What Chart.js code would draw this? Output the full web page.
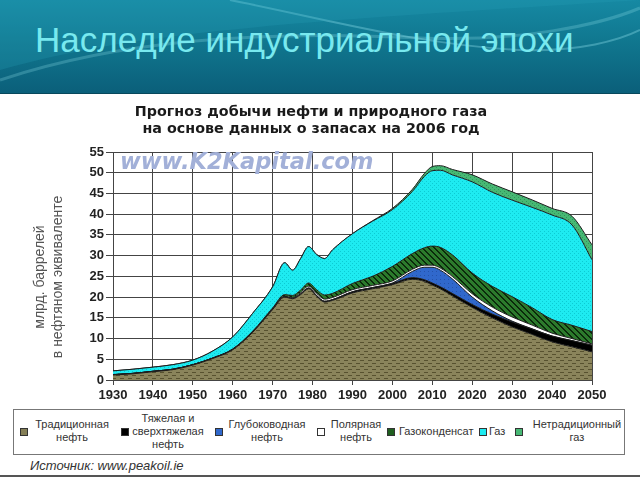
<!DOCTYPE html>
<html>
<head>
<meta charset="utf-8">
<script src="https://cdn.jsdelivr.net/npm/chart.js@4"></script>
<style>
  body { margin: 0; width: 640px; height: 480px; overflow: hidden; background: #fff; position: relative; font-family: "Liberation Sans", Arial, sans-serif; }
  #header { position: absolute; left: 0; top: 0; width: 640px; height: 93px; overflow: hidden;
    background: linear-gradient(180deg, #1689a3 0%, #10778f 45%, #0b5f7a 100%); }
  #header h1 { position: absolute; left: 35px; top: 23px; margin: 0; font-weight: normal; font-size: 35px; line-height: 34px; color: #78e9ef; white-space: nowrap; }
  #content { position: absolute; left: 0; top: 93px; width: 640px; height: 384px; border-top: 1px solid #08485c; border-bottom: 2px solid #555; box-sizing: border-box; }
  #chart { position: absolute; left: 0; top: 95px; }
  #legendBox { position: absolute; left: 13px; top: 409px; width: 612px; height: 46px; border: 1px solid #777; box-sizing: border-box; }
  .sw { position: absolute; width: 8px; height: 8px; top: 428px; border: 1px solid #333; box-sizing: border-box; }
  .lt { position: absolute; font-size: 11px; line-height: 13px; color: #333; white-space: pre; }
  #source { position: absolute; left: 30px; top: 458px; font-size: 13px; font-style: italic; color: #333; }
</style>
</head>
<body>
<div id="header">
  <svg width="640" height="93" style="position:absolute;left:0;top:0">
    <path d="M230 0 C 330 20, 420 45, 520 50 C 580 52, 620 40, 640 30" stroke="rgba(150,230,240,0.35)" stroke-width="2" fill="none"/>
    <path d="M0 80 C 120 40, 260 30, 420 38 C 520 42, 600 25, 640 8" stroke="rgba(150,230,240,0.25)" stroke-width="3" fill="none"/>
    <path d="M0 70 C 140 30, 300 22, 640 0 L 640 0 L 0 0 Z" fill="rgba(40,160,185,0.25)"/>
  </svg>
  <h1>Наследие индустриальной эпохи</h1>
</div>
<div id="content"></div>
<canvas id="chart" width="640" height="310"></canvas>
<div id="legendBox"></div>
<div id="legend"></div>
<div id="source">Источник: www.peakoil.ie</div>

<script>
// Years on the x axis
const years = [1930, 1935, 1940, 1945, 1950, 1955, 1960, 1965, 1970, 1973, 1975, 1977, 1979, 1981, 1983, 1985,
               1990, 1995, 2000, 2005, 2008, 2010, 2012, 2015, 2020, 2025, 2030, 2035, 2040, 2045, 2050];

// Series, billion barrels of oil equivalent (stacked, bottom to top)
const conventionalOil = [1.2, 1.5, 2.0, 2.5, 3.6, 5.2, 7.3, 11.5, 17.0, 20.0, 19.6, 20.6, 22.0, 20.2, 18.8, 19.2,
                         21.0, 22.0, 23.0, 24.3, 23.8, 22.9, 22.0, 20.3, 17.5, 15.0, 12.8, 11.0, 9.2, 8.0, 6.8];
const heavyOil = [0.1, 0.1, 0.1, 0.1, 0.1, 0.1, 0.1, 0.1, 0.1, 0.1, 0.1, 0.2, 0.2, 0.2, 0.2, 0.2,
                  0.3, 0.3, 0.3, 0.4, 0.4, 0.5, 0.5, 0.6, 0.7, 0.9, 1.2, 1.3, 1.4, 1.5, 1.6];
const deepwaterOil = [0, 0, 0, 0, 0, 0, 0, 0, 0, 0, 0, 0, 0, 0, 0, 0,
                      0, 0, 0.1, 1.5, 3.0, 3.8, 4.0, 3.5, 1.8, 0.8, 0.2, 0.05, 0, 0, 0];
const polarOil = [0, 0, 0, 0, 0, 0, 0, 0, 0, 0.1, 0.2, 0.3, 0.4, 0.5, 0.5, 0.5,
                  0.5, 0.5, 0.5, 0.5, 0.5, 0.5, 0.5, 0.6, 0.8, 0.9, 1.0, 0.9, 0.7, 0.5, 0.3];
const condensate = [0, 0, 0, 0, 0, 0, 0.1, 0.2, 0.3, 0.4, 0.5, 0.6, 0.8, 0.9, 1.0, 1.0,
                    1.5, 2.2, 3.5, 3.8, 4.2, 4.6, 5.0, 5.2, 5.0, 5.0, 4.9, 4.2, 3.3, 3.2, 3.0];
const gas = [0.9, 1.0, 1.0, 1.1, 1.1, 1.7, 2.9, 4.3, 5.1, 7.7, 6.1, 7.6, 8.8, 8.5, 8.8, 10.5,
             12.0, 13.3, 13.7, 15.0, 17.2, 18.2, 18.6, 19.3, 22.0, 22.7, 23.3, 24.2, 25.2, 24.2, 17.3];
const unconventionalGas = [0, 0, 0, 0, 0, 0, 0, 0, 0, 0, 0, 0, 0, 0, 0, 0,
                           0, 0.1, 0.3, 0.5, 0.7, 1.0, 1.1, 1.3, 1.7, 2.0, 2.0, 1.8, 1.6, 2.1, 3.6];

const seriesNames = ["Традиционная\nнефть", "Тяжелая и\nсверхтяжелая\nнефть", "Глубоководная\nнефть",
                     "Полярная\nнефть", "Газоконденсат", "Газ", "Нетрадиционный\nгаз"];
const chartTitle = ["Прогноз добычи нефти и природного газа", "на основе данных о запасах на 2006 год"];
const yTitle = ["млрд. баррелей", "в нефтяном эквиваленте"];

// Fill textures
function makePattern(w, h, bg, fg, draw) {
    const c = document.createElement("canvas");
    c.width = w; c.height = h;
    const g = c.getContext("2d");
    g.fillStyle = bg; g.fillRect(0, 0, w, h);
    g.fillStyle = fg; draw(g);
    return g.createPattern(c, "repeat");
}
const oilFill = makePattern(8, 6, "#8a845b", "#57512f", g => { g.fillRect(0, 1, 4, 1); g.fillRect(4, 4, 4, 1); });
const gasFill = makePattern(4, 4, "#1eebf1", "#0ccbd3", g => { g.fillRect(0, 0, 1, 1); g.fillRect(2, 2, 1, 1); });
const condFill = makePattern(6, 6, "#2c7a2c", "#0b2a0b", g => { for (let i = 0; i < 6; i++) { g.fillRect(i, i, 1, 1); g.fillRect(i, (i + 1) % 6, 1, 1); } });
const ncFill = makePattern(4, 4, "#47b874", "#2f955a", g => { g.fillRect(0, 0, 1, 1); g.fillRect(2, 2, 1, 1); });
const blueFill = makePattern(4, 4, "#3068cc", "#2452aa", g => { g.fillRect(0, 0, 1, 1); });

const fills = [oilFill, "#000000", blueFill, "#ffffff", condFill, gasFill, ncFill];
const swatchColors = ["#857f57", "#000000", "#3068cc", "#ffffff", "#1f5e1f", "#1eebf1", "#47b874"];
const seriesData = [conventionalOil, heavyOil, deepwaterOil, polarOil, condensate, gas, unconventionalGas];

// Legend placement: swatch x, text x, centered text?
const legendLayout = [[20, 72, true], [121, 168, true], [215, 267, true], [317, 356, true],
                      [387, 399, false], [479, 489, false], [515, 577, true]];

const labelFont = { family: '"Liberation Sans", Arial, sans-serif', size: 13, weight: "bold" };

const extraText = {
    id: "extraText",
    beforeDatasetsDraw(chart) {
        const ctx = chart.ctx;
        ctx.save();
        ctx.font = 'italic bold 22.5px "DejaVu Sans", sans-serif';
        ctx.fillStyle = "#a2b0d8";
        ctx.textBaseline = "middle";
        ctx.fillText("www.K2Kapital.com", 120, 68);
        ctx.restore();
    },
    afterDraw(chart) {
        const ctx = chart.ctx;
        ctx.save();
        ctx.translate(40, 182);
        ctx.rotate(-Math.PI / 2);
        ctx.font = '14px "Liberation Sans", Arial, sans-serif';
        ctx.fillStyle = "#555";
        ctx.textAlign = "center";
        ctx.textBaseline = "middle";
        yTitle.forEach((t, i) => ctx.fillText(t, 0, i * 18));
        ctx.restore();
    }
};

const chart = new Chart(document.getElementById("chart"), {
    type: "line",
    data: {
        labels: years,
        datasets: seriesData.map((d, i) => ({
            label: seriesNames[i].replace(/\n/g, " "),
            data: d,
            backgroundColor: fills[i],
            borderColor: "#1c1c1c",
            borderWidth: 1,
            fill: i === 0 ? "origin" : "-1",
            pointRadius: 0,
            cubicInterpolationMode: "monotone"
        }))
    },
    options: {
        responsive: false,
        animation: false,
        layout: { padding: { left: 30, right: 48, top: 0, bottom: 0 } },
        plugins: {
            legend: { display: false },
            tooltip: { enabled: false },
            title: {
                display: true,
                text: chartTitle,
                color: "#1a1a1a",
                font: { family: '"DejaVu Sans", sans-serif', size: 14.3, weight: "bold", lineHeight: 1.2 },
                padding: { top: 8.4, bottom: 14.3 }
            }
        },
        scales: {
            x: {
                type: "linear",
                min: 1930, max: 2050,
                ticks: { stepSize: 10, callback: v => String(v), font: labelFont, color: "#222", padding: 3, maxRotation: 0 },
                grid: { color: "#444", tickLength: 5 },
                border: { color: "#444" },
                afterFit: s => { s.height = 25; }
            },
            y: {
                stacked: true,
                min: 0, max: 55,
                ticks: { stepSize: 5, font: labelFont, color: "#222", padding: 2 },
                grid: { color: "#444", tickLength: 7 },
                border: { color: "#444" },
                afterFit: s => { s.width = 83; }
            }
        }
    },
    plugins: [extraText]
});

// HTML legend
const legend = document.getElementById("legend");
seriesNames.forEach((name, i) => {
    const [sx, tx, centered] = legendLayout[i];
    const sw = document.createElement("div");
    sw.className = "sw";
    sw.style.left = sx + "px";
    sw.style.background = swatchColors[i];
    legend.appendChild(sw);
    const lines = name.split("\n").length;
    const t = document.createElement("div");
    t.className = "lt";
    t.textContent = name;
    t.style.top = (431 - lines * 13 / 2) + "px";
    if (centered) {
        t.style.left = (tx - 60) + "px";
        t.style.width = "120px";
        t.style.textAlign = "center";
    } else {
        t.style.left = tx + "px";
    }
    legend.appendChild(t);
});
</script>
</body>
</html>
